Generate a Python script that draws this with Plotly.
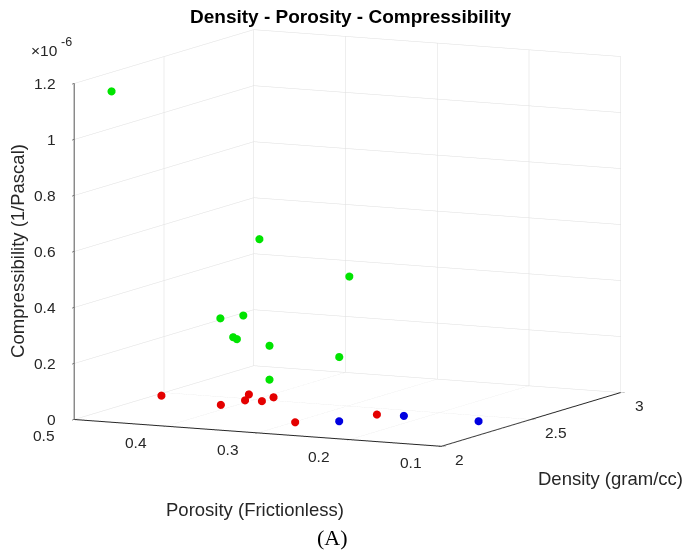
import plotly.graph_objects as go

# Porosity (fraction), density (g/cc) and compressibility (1/Pa) per sample group
por_green = [0.479, 0.357, 0.259, 0.380, 0.355, 0.366, 0.362, 0.346, 0.270, 0.346]
den_green = [2.10, 2.30, 2.30, 2.20, 2.20, 2.20, 2.20, 2.30, 2.30, 2.30]
cmp_green = [1.158e-6, 0.621e-6, 0.511e-6, 0.352e-6, 0.368e-6, 0.288e-6, 0.282e-6, 0.243e-6, 0.221e-6, 0.122e-6]

por_red = [0.461, 0.382, 0.374, 0.388, 0.357, 0.358, 0.266, 0.217]
den_red = [2.286, 2.213, 2.307, 2.400, 2.314, 2.384, 2.034, 2.239]
cmp_red = [0.04e-6] * 8

por_blue = [0.255, 0.214, 0.133]
den_blue = [2.223, 2.374, 2.376]
cmp_blue = [0.01e-6] * 3

por_ticks = [0.5, 0.4, 0.3, 0.2, 0.1]
por_ticktext = ["0.5", "0.4", "0.3", "0.2", "0.1"]
den_ticks = [2, 2.5, 3]
den_ticktext = ["2", "2.5", "3"]
cmp_ticks = [0, 0.2e-6, 0.4e-6, 0.6e-6, 0.8e-6, 1.0e-6, 1.2e-6]
cmp_ticktext = ["0", "0.2", "0.4", "0.6", "0.8", "1", "1.2"]

POR_MIN, POR_MAX = 0.1, 0.5
DEN_MIN, DEN_MAX = 2, 3
CMP_MIN, CMP_MAX = 0, 1.2e-6

SANS = "Liberation Sans, Arial, Helvetica"
AX_COL = "#262626"
TICK_SIZE = 15.5
LABEL_SIZE = 18.5
BOX_SCALE = 1.72

fig = go.Figure()
for px_, dy_, cz_, col in [(por_green, den_green, cmp_green, "#00e400"),
                           (por_red, den_red, cmp_red, "#e40000"),
                           (por_blue, den_blue, cmp_blue, "#0000e0")]:
    fig.add_trace(go.Scatter3d(x=px_, y=dy_, z=cz_, mode="markers",
                               marker=dict(size=4.7, color=col, line=dict(width=0)),
                               hoverinfo="skip", showlegend=False))

axis_common = dict(showbackground=False, showgrid=True, gridcolor="#dedede", gridwidth=1,
                   showline=True, linecolor=AX_COL, linewidth=2, zeroline=False,
                   ticks="outside", ticklen=5, tickcolor=AX_COL,
                   showticklabels=False, showspikes=False, title=dict(text=""))

# Tick labels placed at their 3D tick positions, kept horizontal
tick_font = dict(family=SANS, size=TICK_SIZE, color=AX_COL)
scene_ann = []
for v, t in zip(cmp_ticks, cmp_ticktext):
    scene_ann.append(dict(x=POR_MAX, y=DEN_MIN, z=v, text=t, showarrow=False,
                          xanchor="right", yanchor="middle", xshift=-16, font=tick_font))
for v, t in zip(por_ticks, por_ticktext):
    scene_ann.append(dict(x=v, y=DEN_MIN, z=CMP_MIN, text=t, showarrow=False,
                          xanchor="center", yanchor="middle", xshift=-30, yshift=-16,
                          font=tick_font))
for v, t in zip(den_ticks, den_ticktext):
    scene_ann.append(dict(x=POR_MIN, y=v, z=CMP_MIN, text=t, showarrow=False,
                          xanchor="left", yanchor="middle", xshift=12, yshift=-13,
                          font=tick_font))

fig.update_layout(
    width=690, height=554,
    margin=dict(l=0, r=0, t=0, b=0),
    paper_bgcolor="white",
    title=dict(text="<b>Density - Porosity - Compressibility</b>", x=0.508, y=0.971,
               xanchor="center", yanchor="middle",
               font=dict(family=SANS, size=19, color="black")),
    scene=dict(
        domain=dict(x=[0.007, 1.0], y=[0.14, 1.0]),
        xaxis=dict(axis_common, range=[POR_MAX, POR_MIN], tickvals=por_ticks),
        yaxis=dict(axis_common, range=[DEN_MIN, DEN_MAX], tickvals=den_ticks),
        zaxis=dict(axis_common, range=[CMP_MIN, CMP_MAX], tickvals=cmp_ticks),
        aspectmode="manual",
        aspectratio=dict(x=1.0 * BOX_SCALE, y=0.99 * BOX_SCALE, z=0.83 * BOX_SCALE),
        camera=dict(projection=dict(type="orthographic"),
                    eye=dict(x=0.876, y=-1.774, z=0.296), up=dict(x=0, y=0, z=1),
                    center=dict(x=0, y=0, z=0)),
        annotations=scene_ann,
    ),
    annotations=[
        # exponent multiplier for the compressibility axis
        dict(text="×10", x=29 / 690, y=1 - 51 / 554, xref="paper", yref="paper",
             xanchor="left", yanchor="middle", showarrow=False,
             font=dict(family=SANS, size=TICK_SIZE, color=AX_COL)),
        dict(text="-6", x=59 / 690, y=1 - 42 / 554, xref="paper", yref="paper",
             xanchor="left", yanchor="middle", showarrow=False,
             font=dict(family=SANS, size=12.5, color=AX_COL)),
        dict(text="Compressibility (1/Pascal)", x=0.026, y=0.547, xref="paper", yref="paper",
             textangle=-90, showarrow=False, xanchor="center", yanchor="middle",
             font=dict(family=SANS, size=LABEL_SIZE, color=AX_COL)),
        dict(text="Porosity (Frictionless)", x=0.3696, y=0.0812, xref="paper", yref="paper",
             showarrow=False, xanchor="center", yanchor="middle",
             font=dict(family=SANS, size=LABEL_SIZE, color=AX_COL)),
        dict(text="Density (gram/cc)", x=0.8855, y=0.137, xref="paper", yref="paper",
             showarrow=False, xanchor="center", yanchor="middle",
             font=dict(family=SANS, size=LABEL_SIZE, color=AX_COL)),
        dict(text="(A)", x=0.4826, y=0.029, xref="paper", yref="paper",
             showarrow=False, xanchor="center", yanchor="middle",
             font=dict(family="Liberation Serif, Times New Roman", size=22, color="black")),
    ],
)

fig.write_html("out.html", config=dict(displayModeBar=False))
